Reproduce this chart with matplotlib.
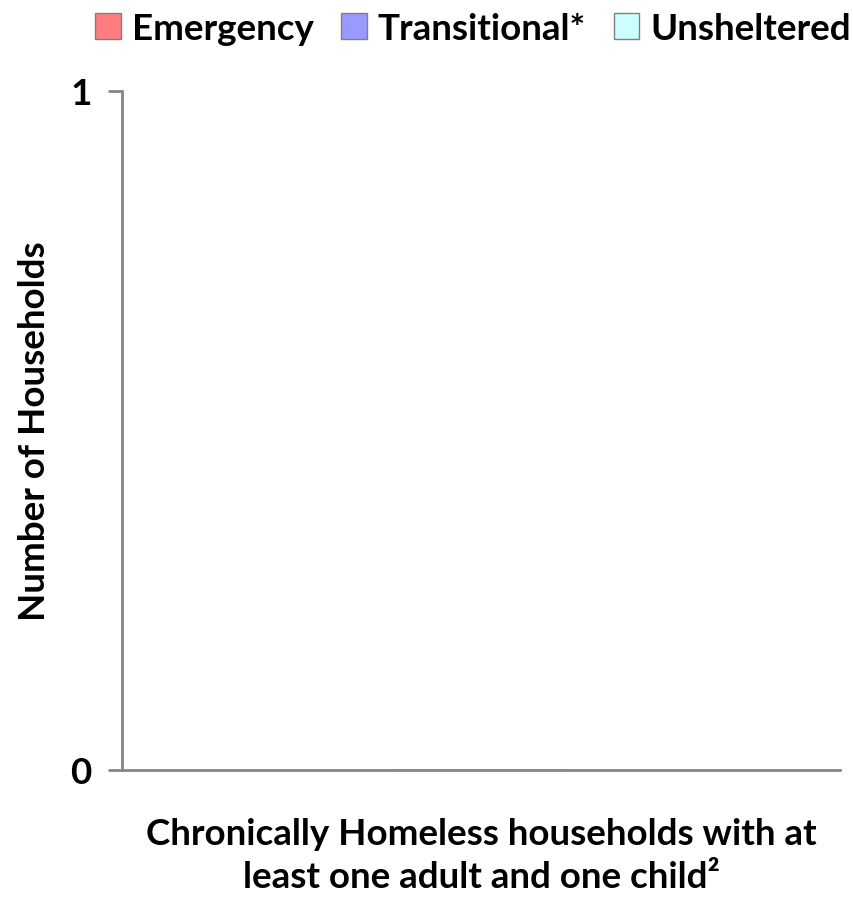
import matplotlib
matplotlib.use("Agg")
import matplotlib.pyplot as plt
import numpy as np

categories = ["Chronically Homeless households with at\nleast one adult and one child²"]
series_names = ["Emergency", "Transitional*", "Unsheltered"]
emergency = [0]
transitional = [0]
unsheltered = [0]
colors = ["#FF7C80", "#9999FF", "#CCFFFF"]
y_ticks = [0, 1]

plt.rcParams['font.family'] = ['Lato', 'DejaVu Sans']
plt.rcParams['font.weight'] = 'bold'

FS = 26.5
fig = plt.figure(figsize=(8.54, 9.04), dpi=100)
ax = fig.add_axes([122/854, 1-771/904, (840-122)/854, (771-92)/904])

x = np.arange(len(categories))
w = 0.25
bottom = np.zeros(len(categories))
handles = []
for vals, name, c in zip([emergency, transitional, unsheltered], series_names, colors):
    b = ax.bar(x, vals, w, bottom=bottom, color=c, edgecolor="#808080", label=name)
    bottom = bottom + np.array(vals)
    handles.append(b)

ax.set_ylim(0, 1)
ax.set_xlim(-0.5, 0.5)
ax.set_yticks(y_ticks)
ax.set_yticklabels([str(t) for t in y_ticks], fontsize=FS, fontweight='bold')
ax.set_xticks([])
ax.set_ylabel("Number of Households", fontsize=FS, fontweight='bold', va='center')
ax.yaxis.set_label_coords((35-122)/718, 0.5)
ax.set_xlabel(categories[0], fontsize=FS, fontweight='bold', linespacing=1.4, va='center')
ax.xaxis.set_label_coords(0.5, (771-856)/679)

for s in ["top", "right"]:
    ax.spines[s].set_visible(False)
for s in ["left", "bottom"]:
    ax.spines[s].set_color("#868686")
    ax.spines[s].set_linewidth(2)
ax.tick_params(axis='y', length=10, width=2, color="#868686", pad=12)

leg = fig.legend(handles=handles, labels=series_names, loc="center",
                 bbox_to_anchor=(473/854, 1-29/904), ncol=3, frameon=False,
                 fontsize=FS, handlelength=0.7, handleheight=0.7,
                 handletextpad=0.3, columnspacing=0.75, borderpad=0)
for t in leg.get_texts():
    t.set_fontweight('bold')

fig.savefig("out.png", dpi=100)
